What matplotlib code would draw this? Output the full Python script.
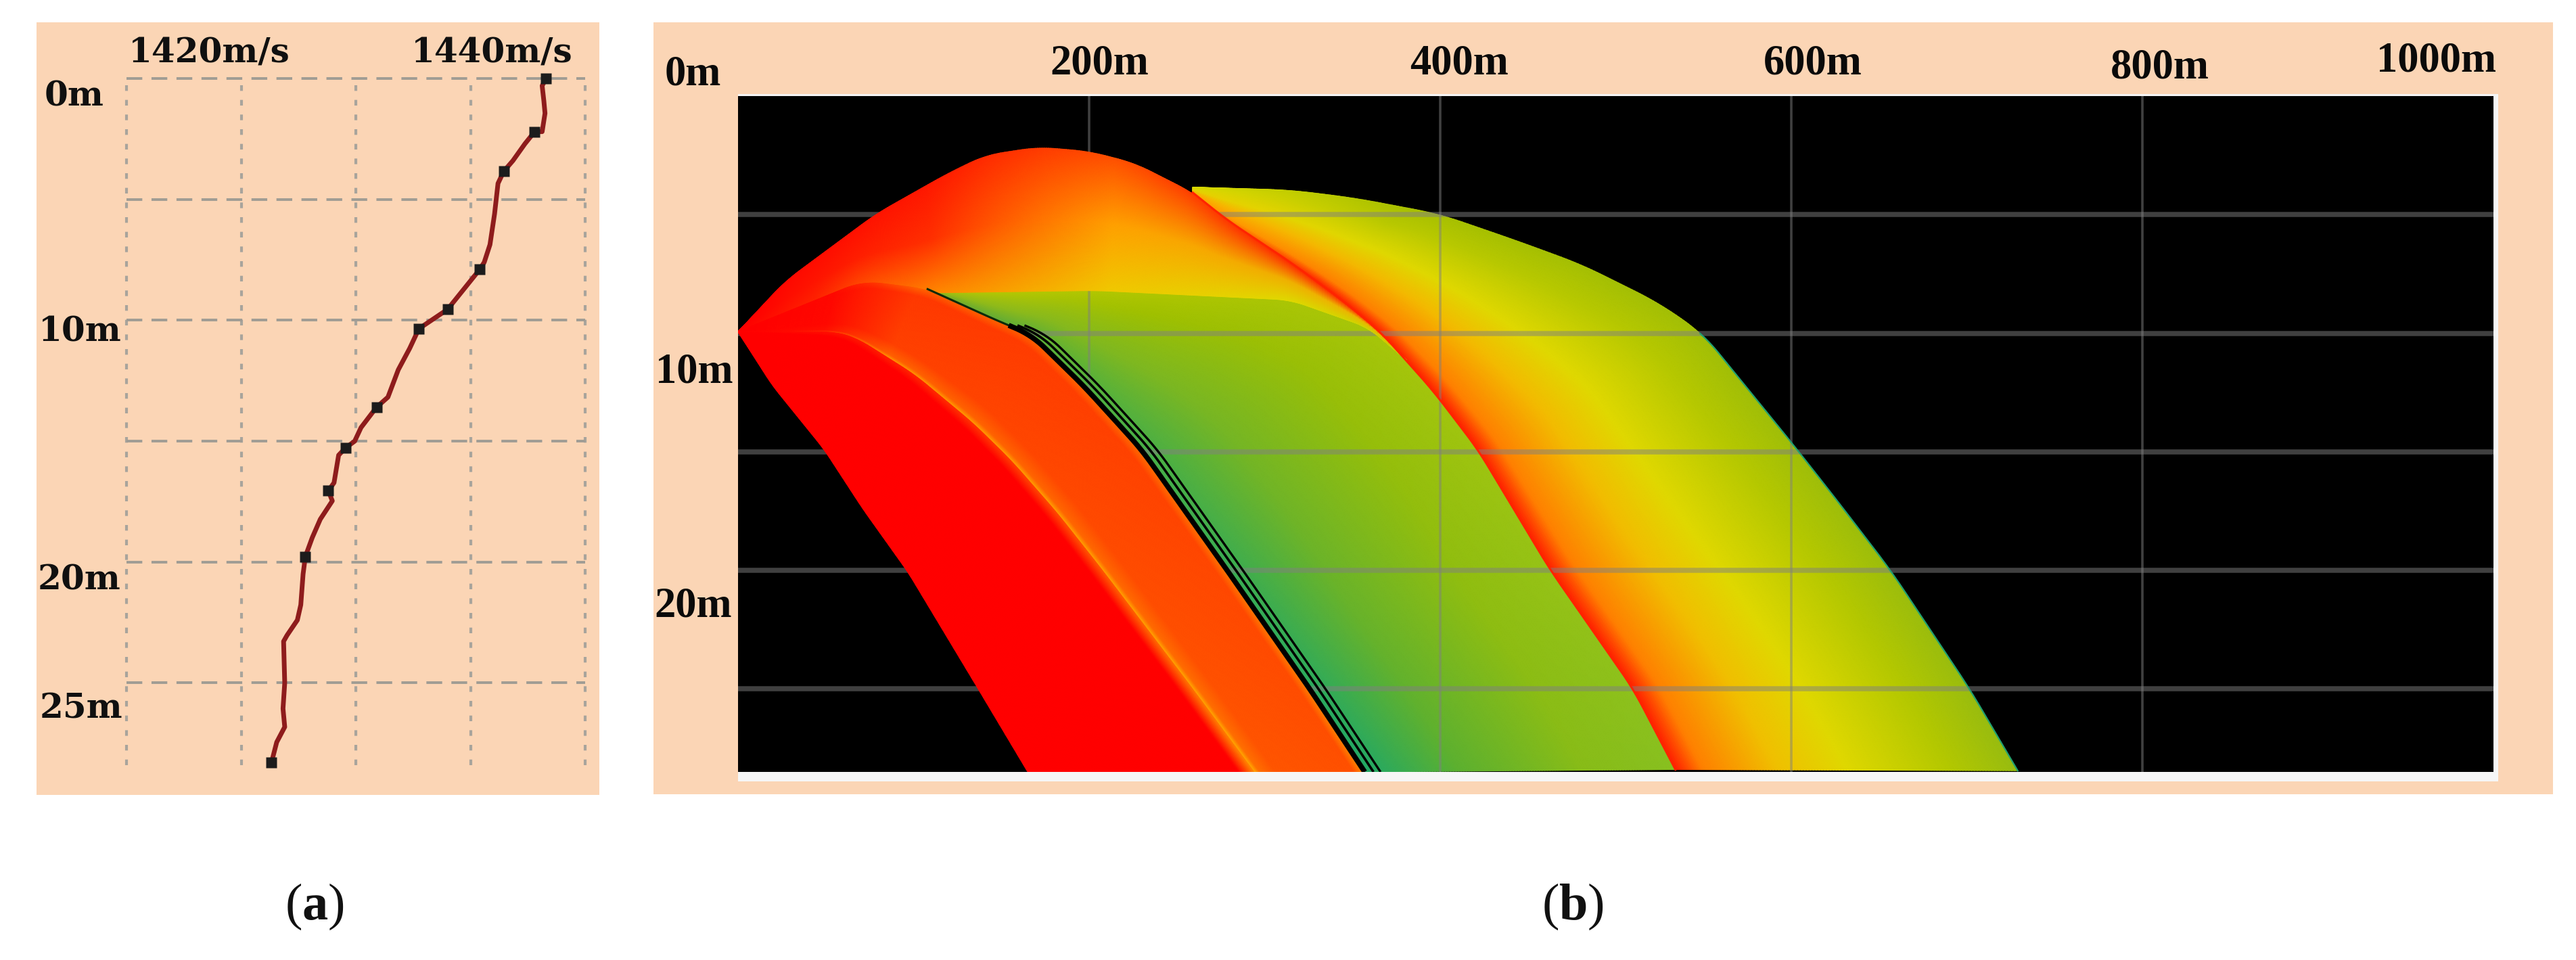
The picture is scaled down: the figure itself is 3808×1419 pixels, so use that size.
import numpy as np
import matplotlib
matplotlib.use("Agg")
import matplotlib.pyplot as plt
from matplotlib.patches import Rectangle
from matplotlib.colors import to_rgb

W, H = 3808, 1419
plt.rcParams['mathtext.fontset'] = 'custom'
plt.rcParams['mathtext.bf'] = 'Liberation Serif:bold'
plt.rcParams['mathtext.rm'] = 'Liberation Serif'

# Panel (a): sound speed profile
speed = [1446.6,1446.25,1446.4,1446.5,1446.25,1445.6,1444.75,1443.7,1442.9,1442.4,1442.1,1441.7,1441.2,1440.8,1439.9,
         1438.0,1436.5,1435.5,1434.7,1433.7,1432.8,1431.8,1430.45,1429.9,1429.1,1428.5,1428.1,1427.6,1427.95,1426.9,
         1426.2,1425.6,1425.4,1425.2,1424.9,1424.0,1423.7,1423.8,1423.65,1423.8,1423.1,1422.65]
depth = [0,0.3,0.93,1.44,2.2,2.2,2.7,3.4,3.84,4.34,5.6,6.87,7.6,7.9,8.43,
         9.55,10.03,10.35,11.16,12.05,13.18,13.6,14.44,15.0,15.28,15.58,16.72,17.05,17.47,18.23,
         18.99,19.77,20.5,21.77,22.4,23.03,23.28,25.0,26.06,26.82,27.45,28.28]
marker_speed = [1446.6,1445.6,1442.9,1440.8,1438.0,1435.5,1431.8,1429.1,1427.6,1425.6,1422.65]
marker_depth = [0,2.2,3.84,7.9,9.55,10.35,13.6,15.28,17.05,19.77,28.28]
speed_grid = [1410,1420,1430,1440,1450]
depth_grid_a = [0,5,10,15,20,25]

# Panel (b): ray-field boundaries (range m, depth m)
edge_low_x = [0,19.5,49,71,97,137.6,165]
edge_low_z = [9.94,12.2,14.9,17.4,20.1,25.1,28.5]
red_band_x = [0,56,67.5,100.7,134,156,182,207.6,259,294]
red_band_z = [9.94,9.94,10.2,11.75,13.8,15.4,17.6,20.0,25.0,28.5]
shadow_x = [0,71,108,148.6,167,196.6,229.8,277.7,325.7,357]
shadow_z = [9.94,7.8,8.14,9.5,10.06,12.2,14.9,19.9,25.0,28.5]
hump_x = [0,27,78.6,119,141,171,200,226,259,278,314.6,344,366,381]
hump_z = [9.94,7.8,4.97,3.28,2.49,2.15,2.33,2.83,4.07,5.2,7.0,8.6,9.94,11.15]
wedge_low_x = [0,71,108,204,314.6,359,381]
wedge_low_z = [9.94,7.9,8.3,8.2,8.6,9.76,11.15]
green_top_x = [108,204,314.6,359,366]
green_top_z = [8.14,7.9,8.3,9.5,9.94]
split_x = [366,395.7,421.5,462,510,534]
split_z = [9.94,12.4,14.9,19.9,25.0,28.4]
outer_x = [259,314.6,351.5,399.4,443.7,480.5,524,549.4,573.6,600,625.5,656.6,701.6,729]
outer_z = [3.84,3.96,4.3,4.97,6.1,7.1,8.7,10.0,12.2,14.6,17.0,20.0,25.0,28.45]
range_ticks = [200,400,600,800]
depth_grid_b = [5,10,15,20,25]

PEACH = '#fbd5b5'
fig = plt.figure(figsize=(W/100, H/100), dpi=100, facecolor='white')
def box(l, t, r, b):
    return [l/W, 1-b/H, (r-l)/W, (b-t)/H]
def rect(l, t, r, b, c):
    fig.add_artist(Rectangle((l/W, 1-b/H), (r-l)/W, (b-t)/H, transform=fig.transFigure, fc=c, ec='none', zorder=-2))
def label(x, y, s, fam, size, **kw):
    fig.text(x/W, 1-y/H, s, family=fam, fontsize=size, ha='center', va='center', **kw)

rect(54, 33, 886, 1175, PEACH)
rect(966, 33, 3774, 1174, PEACH)
rect(1091, 139, 3693, 1155, '#f6f6f6')

# ---------- (a)
axa = fig.add_axes(box(187, 116, 865, 1131))
axa.patch.set_alpha(0)
axa.set_xlim(1410, 1450)
axa.set_ylim(28.4, 0)
for s in axa.spines.values():
    s.set_visible(False)
axa.set_xticks(speed_grid)
axa.set_yticks(depth_grid_a)
axa.tick_params(length=0, labelbottom=False, labelleft=False)
axa.grid(True, axis='x', color='#a8a49c', lw=3, ls=(0, (2, 3.2)), clip_on=False)
axa.grid(True, axis='y', color='#a09c94', lw=2.8, ls=(0, (6, 3.5)), clip_on=False)
axa.plot(speed, depth, color='#8e1c1c', lw=5, clip_on=False, zorder=3)
axa.plot(marker_speed, marker_depth, ls='none', marker='s', ms=11, color='#1c1c1c', mec='none', clip_on=False, zorder=4)

F_A = 'DejaVu Serif'
for x, y, s in [(309, 79, '1420m/s'), (727, 79, '1440m/s'), (110, 143, '0m'), (118, 491, '10m'), (117, 858, '20m'), (120, 1048, '25m')]:
    label(x, y, s, F_A, 36, fontweight='bold', color='#101010')

# ---------- (b)
axb = fig.add_axes(box(1091, 142, 3686, 1141))
axb.set_facecolor('black')
axb.set_xlim(0, 1000)
axb.set_ylim(28.5, 0)
for s in axb.spines.values():
    s.set_visible(False)
axb.set_xticks(range_ticks)
axb.set_yticks(depth_grid_b)
axb.tick_params(length=0, labelbottom=False, labelleft=False)

def resample(x, z, n, win=8):
    x, z = np.asarray(x, float), np.asarray(z, float)
    d = np.r_[0, np.cumsum(np.hypot(np.diff(x)*2.6, np.diff(z)*35))]
    u = np.linspace(0, d[-1], n)
    out = []
    for a in (np.interp(u, d, x), np.interp(u, d, z)):
        p = np.r_[2*a[0]-a[win:0:-1], a, 2*a[-1]-a[-2:-win-2:-1]]
        out.append(np.convolve(p, np.ones(2*win+1)/(2*win+1), mode='same')[win:-win][:n])
    return out[0], out[1]

def band(left, right, s_stops, t_stops, colors, nt=120, ns=360, z=1):
    lx, lz = resample(*left, ns)
    rx, rz = resample(*right, ns)
    t = np.linspace(0, 1, nt)
    s = np.linspace(0, 1, ns)
    X = lx[:, None] + (rx-lx)[:, None]*t[None, :]
    Z = lz[:, None] + (rz-lz)[:, None]*t[None, :]
    table = np.array([[to_rgb(c) for c in row] for row in colors])
    across = np.stack([[np.interp(t, t_stops, table[i, :, k]) for k in range(3)] for i in range(len(s_stops))])
    C = np.zeros((ns, nt, 3))
    for k in range(3):
        for j in range(nt):
            C[:, j, k] = np.interp(s, s_stops, across[:, k, j])
    axb.pcolormesh(X, Z, C, shading='gouraud', zorder=z)

# outer yellow band
band((np.r_[hump_x[8:-2], split_x], np.r_[hump_z[8:-2], split_z]), (outer_x, outer_z),
     [0, .2, 1], [0, .08, .3, .5, .8, 1],
     [['#ffa000', '#ffa800', '#f8b800', '#e8d000', '#e0d800', '#d8d800'],
      ['#ff2000', '#ff8000', '#f4b800', '#e0d800', '#b8c800', '#a8c000'],
      ['#ff2000', '#ff8000', '#f0c000', '#e0d800', '#b4c800', '#98bc10']])
# green fan
band((shadow_x[2:], shadow_z[2:]), (np.r_[green_top_x, split_x[1:]], np.r_[green_top_z, split_z[1:]]),
     [0, .25, 1], [0, .3, .7, 1],
     [['#70a830', '#98bc18', '#b8c808', '#c8d000'],
      ['#50b040', '#80b820', '#a0c000', '#b4c800'],
      ['#20a868', '#5cb030', '#88bc18', '#88c020']], z=2)
# upper wedge
band((hump_x, hump_z), (wedge_low_x, wedge_low_z),
     [0, .12, .3, .55, .8, 1], [0, .5, 1],
     [['#ff0000', '#ff0000', '#ff0000'],
      ['#ff0c00', '#ff1400', '#ff2400'],
      ['#ff1800', '#ff3000', '#ff8800'],
      ['#ff5000', '#ffa000', '#f0c800'],
      ['#ff2800', '#f0b000', '#e0d800'],
      ['#ff2000', '#e8c000', '#c8d000']], z=3)
# orange band
band((red_band_x, red_band_z), (shadow_x, shadow_z),
     [0, .12, .22, 1], [0, .05, .2, .9, 1],
     [['#ff0000', '#ff0000', '#ff0000', '#ff0000', '#ff0000'],
      ['#ff4000', '#ff1000', '#ff0800', '#ff0800', '#ff0800'],
      ['#ffa000', '#ff6000', '#ff4000', '#ff3800', '#ff6000'],
      ['#ffb000', '#ff7000', '#ff5500', '#ff5000', '#ff9000']], z=4)
# red band
band((edge_low_x, edge_low_z), (red_band_x, red_band_z),
     [0, 1], [0, .93, 1],
     [['#ff0000', '#ff0000', '#ff0000'], ['#ff0000', '#ff0000', '#ff8800']], z=5)

# dark shadow stripes beside the caustic
stripe_offsets = [0, 5, 9]
stripe_widths = [5.5, 2.6, 2.4]
sx, sz = resample(shadow_x[2:], shadow_z[2:], 300)
axb.plot(sx[:45], sz[:45], color='#0a2a0a', lw=2.2, zorder=6)
for off, lw in zip(stripe_offsets, stripe_widths):
    axb.plot(sx[40:]+off, sz[40:], color='black', lw=lw, zorder=6, solid_capstyle='butt')
rx, rz = resample(hump_x[8:-2]+split_x, hump_z[8:-2]+split_z, 300)
axb.plot(rx, rz, color='#ff2400', lw=2.2, zorder=6)
ox, oz = resample(outer_x, outer_z, 360)
axb.plot(ox[oz > 10], oz[oz > 10], color='#20a070', lw=1.6, zorder=6)

axb.set_axisbelow(False)
axb.grid(True, axis='x', color='#808080', alpha=.5, lw=2.6, zorder=8)
axb.grid(True, axis='y', color='#808080', alpha=.5, lw=5.4, zorder=8)

F_B = 'Liberation Serif'
for x, y, s in [(1024, 110, '0m'), (1625, 95, '200m'), (2157, 95, '400m'), (2680, 95, '600m'),
                (3193, 100, '800m'), (3602, 91, '1000m'), (1026, 551, '10m'), (1025, 896, '20m')]:
    label(x, y, s, F_B, 45, fontweight='bold', color='#0a0a0a')

label(465, 1340, r'($\mathbf{a}$)', F_B, 55, color='#111111')
label(2325, 1340, r'($\mathbf{b}$)', F_B, 55, color='#111111')

fig.savefig('out.png', dpi=100)
